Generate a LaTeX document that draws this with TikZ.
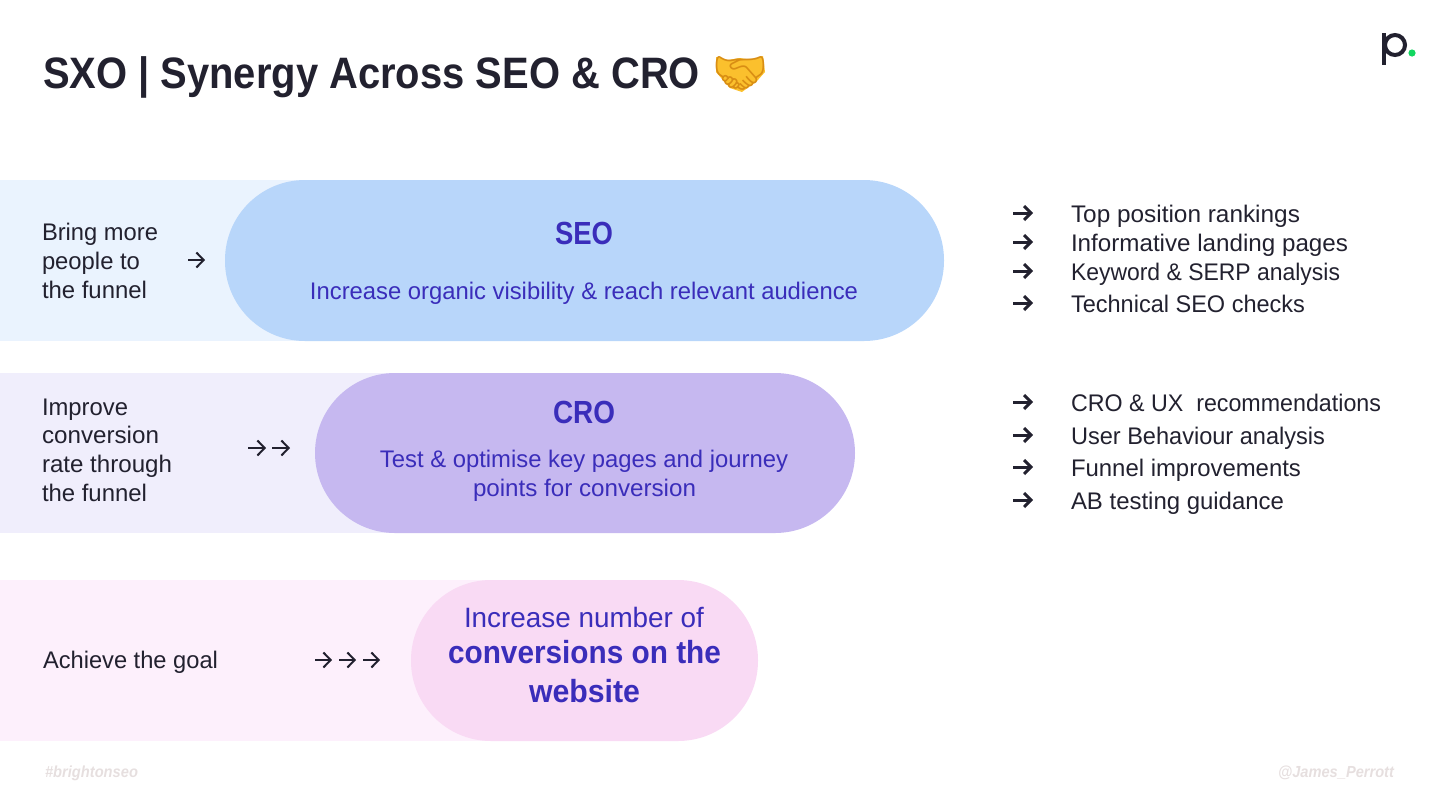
\documentclass[tikz,border=0pt]{standalone}
\usepackage{fontspec}
\setmainfont{Liberation Sans}
\newfontfamily\emojifont{Noto Emoji}
\usetikzlibrary{arrows.meta}
\definecolor{ink}{HTML}{22212F}
\definecolor{indigo}{HTML}{3A2DBA}
\definecolor{footgrey}{HTML}{E6DFDF}
\definecolor{bandA}{HTML}{EAF3FE}
\definecolor{pillA}{HTML}{B8D6FA}
\definecolor{bandB}{HTML}{F0EEFC}
\definecolor{pillB}{HTML}{C6B8F0}
\definecolor{bandC}{HTML}{FDF0FC}
\definecolor{pillC}{HTML}{F9DAF4}
\definecolor{logogreen}{HTML}{12D760}
\definecolor{hand}{HTML}{FBC02D}
\definecolor{handline}{HTML}{D98E14}
\newcommand{\fs}[1]{\fontsize{\dimexpr#1pt*1/2\relax}{\dimexpr#1pt*3/5\relax}\selectfont}
% set text at a given size, fitted to a given width in reference pixels
\newcommand{\fit}[3]{\resizebox{\dimexpr#1pt*1/2\relax}{\height}{\fs{#2}#3}}
\tikzset{
  x=0.5pt,y=-0.5pt,
  txt/.style={anchor=base west,inner sep=0pt,outer sep=0pt,text=ink},
  ctr/.style={anchor=base,inner sep=0pt,outer sep=0pt,text=indigo},
  flow/.style={draw=ink,line width=1pt,-{Straight Barb[length=3.6pt,width=7.5pt,line width=1pt]}},
  bullet/.style={draw=ink,line width=1.5pt,-{Straight Barb[length=3.4pt,width=7pt,line width=1.5pt]}},
  pill/.style={rounded corners=40pt},
}
\begin{document}
\begin{tikzpicture}
\useasboundingbox (0,0) rectangle (1440,810);
% bands
\fill[bandA] (0,180) rectangle (300,341);
\fill[bandB] (0,373) rectangle (390,533);
\fill[bandC] (0,580) rectangle (490,741);
% pills
\fill[pillA,pill] (225,180) rectangle (944,341);
\fill[pillB,pill] (315,373) rectangle (855,533);
\fill[pillC,pill] (411,580) rectangle (758,741);
% title
\node[txt] (title) at (43,88) {\fit{657}{44}{\bfseries SXO | Synergy Across SEO \& CRO}};
% emoji
\fill[hand] (716,57) -- (728,60) -- (740,58) -- (752,60) -- (763,56) -- (765,72) -- (757,81) -- (742,92) -- (730,88) -- (722,79) -- (716,72) -- cycle;
\node[inner sep=0pt,text=handline] (shake) at (740,73) {\fs{44}\emojifont 🤝};
% logo
\fill[ink] (1382,33) rectangle (1386,65);
\draw[ink,line width=2pt] (1395,45) circle (10);
\fill[logogreen] (1412,53) circle (3.6);
% row 1
\node[txt] (l1a) at (42,240) {\fit{116}{24}{Bring more}};
\node[txt] (l1b) at (42,269) {\fit{98}{24}{people to}};
\node[txt] (l1c) at (42,298) {\fit{105}{24}{the funnel}};
\coordinate (a1s) at (188,260); \coordinate (a1e) at (205,260);
\draw[flow] (a1s) -- (a1e);
\node[ctr] (seoh) at (584,244) {\fit{58}{32}{\bfseries SEO}};
\node[ctr] (seot) at (584,299) {\fit{548}{24}{Increase organic visibility \& reach relevant audience}};
% row 2
\node[txt] (l2a) at (42,415) {\fit{86}{24}{Improve}};
\node[txt] (l2b) at (42,443) {\fit{117}{24}{conversion}};
\node[txt] (l2c) at (42,472) {\fit{130}{24}{rate through}};
\node[txt] (l2d) at (42,501) {\fit{105}{24}{the funnel}};
\coordinate (a2s) at (248,448); \coordinate (a2e) at (266,448);
\coordinate (a3s) at (272,448); \coordinate (a3e) at (290,448);
\draw[flow] (a2s) -- (a2e);
\draw[flow] (a3s) -- (a3e);
\node[ctr] (croh) at (584,423) {\fit{62}{32}{\bfseries CRO}};
\node[ctr] (crot) at (584,467) {\fit{408}{24}{Test \& optimise key pages and journey}};
\node[ctr] (crou) at (584.5,496) {\fit{223}{24}{points for conversion}};
% row 3
\node[txt] (l3) at (43,668) {\fit{175}{24}{Achieve the goal}};
\coordinate (a4s) at (315,660); \coordinate (a4e) at (332,660);
\coordinate (a5s) at (339,660); \coordinate (a5e) at (356,660);
\coordinate (a6s) at (363,660); \coordinate (a6e) at (380,660);
\draw[flow] (a4s) -- (a4e);
\draw[flow] (a5s) -- (a5e);
\draw[flow] (a6s) -- (a6e);
\node[ctr] (g1) at (584,627) {\fit{240}{28}{Increase number of}};
\node[ctr] (g2) at (584.5,663) {\fit{273}{32}{\bfseries conversions on the}};
\node[ctr] (g3) at (584.5,702) {\fit{111}{32}{\bfseries website}};
% right lists
\foreach \n/\y/\w/\t in {r1/222/229/Top position rankings,r2/251/277/Informative landing pages,r3/280/269/Keyword \& SERP analysis,r4/312/234/Technical SEO checks,r5/411/310/CRO \& UX\ \ recommendations,r6/444/254/User Behaviour analysis,r7/476/230/Funnel improvements,r8/509/213/AB testing guidance}{
  \node[txt] (\n) at (1071,\y) {\fit{\w}{24}{\t}};
  \coordinate (\n s) at (1013,\y-9);
  \coordinate (\n e) at (1033,\y-9);
  \draw[bullet] (\n s) -- (\n e);
}
% footer
\node[txt,text=footgrey] (f1) at (45,777) {\fit{93}{16}{\bfseries\itshape \#brightonseo}};
\node[txt,text=footgrey,anchor=base east] (f2) at (1394,777) {\fit{116}{16}{\bfseries\itshape @James\_Perrott}};
\end{tikzpicture}
\end{document}
